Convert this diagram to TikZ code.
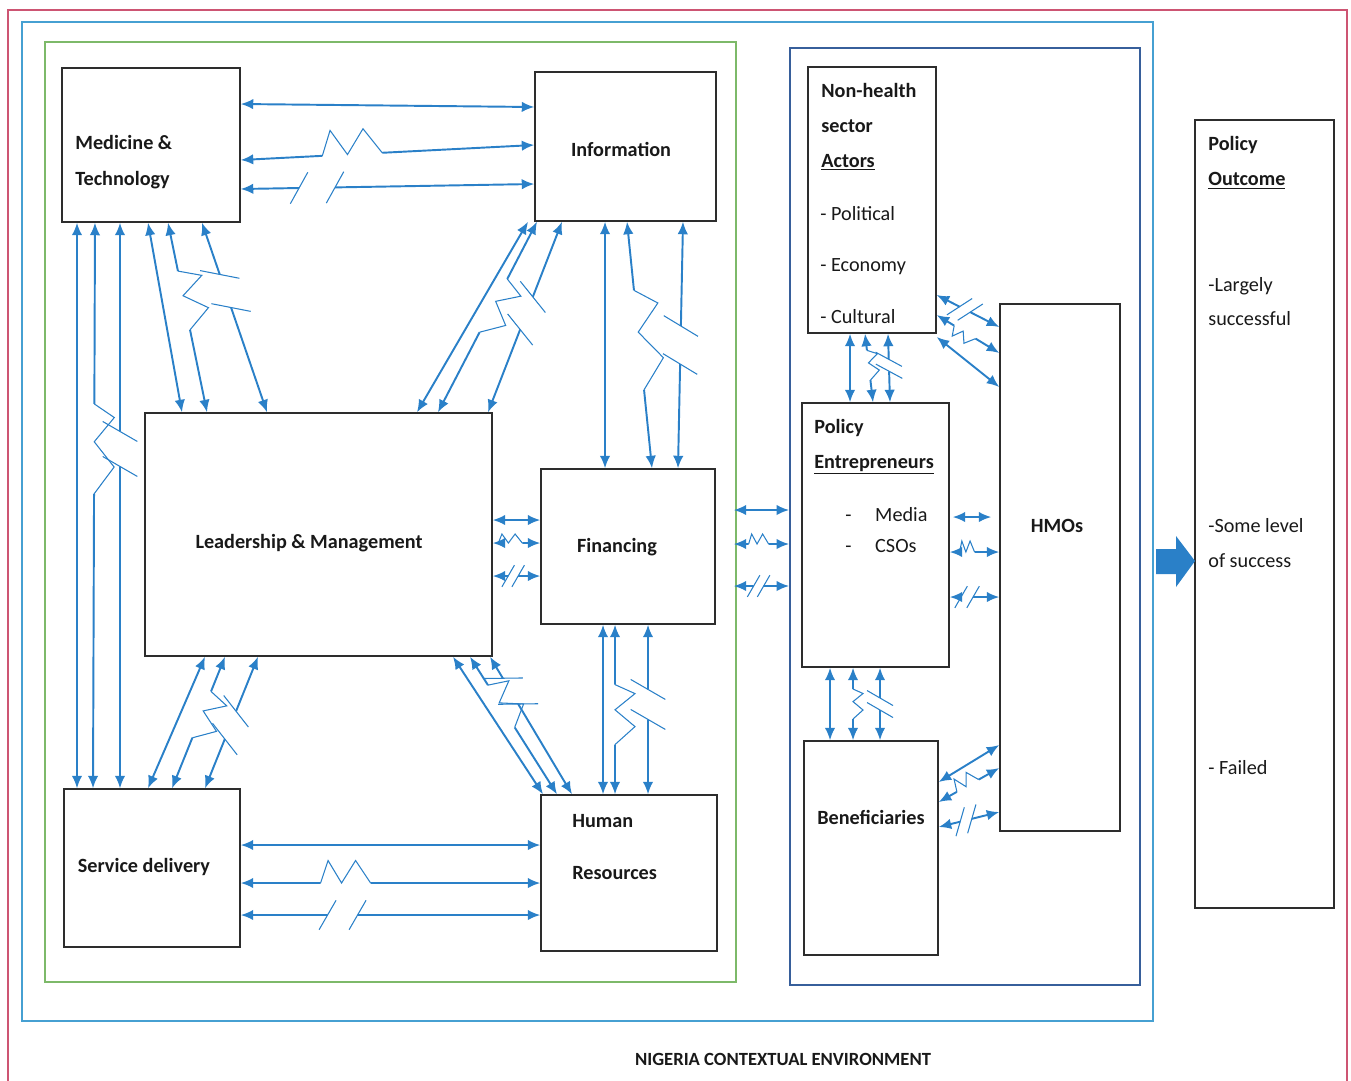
\documentclass[tikz,border=0pt]{standalone}
\usepackage{fontspec}
\setmainfont{Carlito}
\usetikzlibrary{positioning,arrows.meta,calc}

\definecolor{linkblue}{RGB}{42,128,200}
\definecolor{envblue}{RGB}{70,160,210}
\definecolor{hsgreen}{RGB}{125,185,105}
\definecolor{grpblue}{RGB}{55,95,155}
\definecolor{edgepink}{RGB}{205,85,115}
\definecolor{boxgray}{RGB}{45,45,45}

\tikzset{
  box/.style={draw=boxgray,line width=0.85pt,inner sep=0},
  frame/.style={draw,line width=1.1pt,inner sep=0},
  txt/.style={inner sep=0,text=black!90,font=\fontsize{11.5}{14}\selectfont},
  title/.style={txt,font=\fontsize{11.5}{14}\selectfont\bfseries},
  link/.style={draw=linkblue,line width=1.1pt,>={Latex[length=2.5mm,width=2.1mm]}},
  zig/.style={draw=linkblue,line width=0.6pt},
}

% straight two-way link
\newcommand{\bilink}[2]{\draw[link,<->] #1 -- #2;}
% two-way link broken by a zigzag: [where]{from}{to}{half gap}{height}
\newcommand{\ziglink}[5][0.5]{%
  \coordinate (lkA) at #2;
  \coordinate (lkB) at #3;
  \coordinate (lkM) at ($(lkA)!#1!(lkB)$);
  \coordinate (lkS) at ($(lkM)!#4!(lkA)$);
  \coordinate (lkT) at ($(lkM)!#4!(lkB)$);
  \draw[link,<-] (lkA) -- (lkS);
  \draw[link,->] (lkT) -- (lkB);
  \draw[zig] (lkS) -- ($(lkS)!0.15!(lkT)!#5!90:(lkT)$) -- ($(lkS)!0.42!(lkT)$)
    -- ($(lkS)!0.7!(lkT)!#5!90:(lkT)$) -- (lkT);
}
% two-way link cut by two slashes: [where]{from}{to}{half gap}{half slash}
\newcommand{\cutlink}[5][0.5]{%
  \coordinate (lkA) at #2;
  \coordinate (lkB) at #3;
  \coordinate (lkM) at ($(lkA)!#1!(lkB)$);
  \coordinate (lkS) at ($(lkM)!#4!(lkA)$);
  \coordinate (lkT) at ($(lkM)!#4!(lkB)$);
  \draw[link,<-] (lkA) -- (lkS);
  \draw[link,->] (lkT) -- (lkB);
  \draw[zig] ($(lkS)!#5!60:(lkB)$) -- ($(lkS)!#5!-120:(lkB)$);
  \draw[zig] ($(lkT)!#5!60:(lkB)$) -- ($(lkT)!#5!-120:(lkB)$);
}

\begin{document}
\begin{tikzpicture}[x=0.02cm,y=-0.02cm]
\useasboundingbox (0,0) rectangle (1351,1080);

% frames
\node[frame,draw=edgepink,minimum width=26.78cm,minimum height=21.8cm] (page) at (677.5,555) {};
\node[frame,draw=envblue,minimum width=22.62cm,minimum height=19.98cm] (env) at (587.5,521.5) {};
\node[frame,draw=hsgreen,minimum width=13.82cm,minimum height=18.80cm] (hs) at (390.5,512) {};
\node[frame,draw=grpblue,minimum width=7.00cm,minimum height=18.74cm] (grp) at (965,516.5) {};

% health system blocks
\node[box,minimum width=3.56cm,minimum height=3.08cm] (med) at (151,145) {};
\node[box,minimum width=3.62cm,minimum height=2.98cm] (info) at (625.5,146.5) {};
\node[box,minimum width=6.94cm,minimum height=4.86cm] (lead) at (318.5,534.5) {};
\node[box,minimum width=3.48cm,minimum height=3.10cm] (fin) at (628,546.5) {};
\node[box,minimum width=3.52cm,minimum height=3.16cm] (serv) at (152,868) {};
\node[box,minimum width=3.52cm,minimum height=3.12cm] (hr) at (629,873) {};

% actors
\node[box,minimum width=2.56cm,minimum height=5.32cm] (nonh) at (872,200) {};
\node[box,minimum width=2.94cm,minimum height=5.28cm] (pe) at (875.5,535) {};
\node[box,minimum width=2.68cm,minimum height=4.28cm] (ben) at (871,848) {};
\node[box,minimum width=2.40cm,minimum height=10.54cm] (hmo) at (1060,567.5) {};
\node[box,minimum width=2.78cm,minimum height=15.76cm] (outc) at (1264.5,514) {};

% texts
\node[title,anchor=west,align=left,font=\fontsize{11.5}{20.4}\selectfont\bfseries] (medtxt) at (75,162) {Medicine \&\\Technology};
\node[title] (infotxt) at (621,149) {Information};
\node[title] (leadtxt) at (309,543) {Leadership \& Management};
\node[title] (fintxt) at (617,547) {Financing};
\node[title] (servtxt) at (144,867) {Service delivery};
\node[title,anchor=west,align=left,font=\fontsize{11.5}{29.5}\selectfont\bfseries] (hrtxt) at (572,847) {Human\\Resources};
\node[title,anchor=west,align=left,font=\fontsize{11.5}{19.8}\selectfont\bfseries] (nonhtxt) at (821,127) {Non-health\\sector\\\underline{Actors}};
\node[txt,anchor=west,align=left,font=\fontsize{11.5}{29.2}\selectfont] (nonhlist) at (820,265) {- Political\\- Economy\\- Cultural};
\node[title,anchor=west,align=left,font=\fontsize{11.5}{19.8}\selectfont\bfseries] (petxt) at (814,447) {Policy\\\underline{Entrepreneurs}};
\node[txt,anchor=west,align=left,font=\fontsize{11.5}{18.1}\selectfont] (pelist) at (845,530) {\makebox[17pt][l]{-}Media\\\makebox[17pt][l]{-}CSOs};
\node[title] (bentxt) at (871,817) {Beneficiaries};
\node[title] (hmotxt) at (1057,526) {HMOs};
\node[title,anchor=west,align=left,font=\fontsize{11.5}{19.8}\selectfont\bfseries] (outctxt) at (1208,163) {Policy\\\underline{Outcome}};
\node[txt,anchor=west,align=left,font=\fontsize{11.5}{19.3}\selectfont] (out1) at (1208,302) {-Largely\\successful};
\node[txt,anchor=west,align=left,font=\fontsize{11.5}{19.8}\selectfont] (out2) at (1208,543) {-Some level\\of success};
\node[txt,anchor=west] (out3) at (1208,768) {- Failed};
\node[title,font=\fontsize{10.6}{12}\selectfont\bfseries] (envtxt) at (783,1059) {NIGERIA CONTEXTUAL ENVIRONMENT};

% arrow to the outcome
\fill[linkblue] (1156,549) -- (1176,549) -- (1176,536) -- (1195,561) -- (1176,587)
  -- (1176,574) -- (1156,574) -- cycle;

% medicine - information
\bilink{(med.east |- 0,104)}{(info.west |- 0,107)}
\ziglink[0.38]{(med.east |- 0,160)}{(info.west |- 0,145)}{0.6cm}{0.5cm}
\cutlink[0.26]{(med.east |- 0,189)}{(info.west |- 0,184)}{0.36cm}{0.36cm}
% medicine - leadership
\bilink{(148,0 |- med.south)}{(182,0 |- lead.north)}
\ziglink[0.41]{(168,0 |- med.south)}{(207,0 |- lead.north)}{0.6cm}{0.45cm}
\cutlink[0.36]{(202,0 |- med.south)}{(267,0 |- lead.north)}{0.35cm}{0.4cm}
% information - leadership
\bilink{(528,0 |- info.south)}{(417,0 |- lead.north)}
\ziglink[0.44]{(537,0 |- info.south)}{(438,0 |- lead.north)}{0.6cm}{0.4cm}
\cutlink[0.48]{(562,0 |- info.south)}{(488,0 |- lead.north)}{0.35cm}{0.4cm}
% information - financing
\bilink{(605,0 |- info.south)}{(605,0 |- fin.north)}
\ziglink[0.48]{(627,0 |- info.south)}{(652,0 |- fin.north)}{1.0cm}{0.45cm}
\cutlink[0.5]{(683,0 |- info.south)}{(678,0 |- fin.north)}{0.38cm}{0.4cm}
% leadership - financing
\bilink{(lead.east |- 0,520)}{(fin.west |- 0,520)}
\ziglink[0.37]{(lead.east |- 0,543)}{(fin.west |- 0,543)}{0.24cm}{0.18cm}
\cutlink[0.43]{(lead.east |- 0,576)}{(fin.west |- 0,576)}{0.1cm}{0.25cm}
% financing - actors
\bilink{($(fin.east |- 0,510)+(18,0)$)}{(grp.west |- 0,510)}
\ziglink[0.45]{($(fin.east |- 0,544)+(18,0)$)}{(grp.west |- 0,544)}{0.2cm}{0.2cm}
\cutlink[0.45]{($(fin.east |- 0,586)+(18,0)$)}{(grp.west |- 0,586)}{0.1cm}{0.25cm}
% medicine - service delivery
\bilink{(77,0 |- med.south)}{(77,0 |- serv.north)}
\ziglink[0.4]{(95,0 |- med.south)}{(93,0 |- serv.north)}{0.9cm}{0.4cm}
\cutlink[0.4]{(120,0 |- med.south)}{(120,0 |- serv.north)}{0.35cm}{0.4cm}
% leadership - service delivery
\bilink{(205,0 |- lead.south)}{(148,0 |- serv.north)}
\ziglink[0.44]{(225,0 |- lead.south)}{(172,0 |- serv.north)}{0.5cm}{0.4cm}
\cutlink[0.52]{(258,0 |- lead.south)}{(205,0 |- serv.north)}{0.3cm}{0.4cm}
% leadership - human resources
\bilink{(453,0 |- lead.south)}{(543,0 |- hr.north)}
\ziglink[0.36]{(470,0 |- lead.south)}{(557,0 |- hr.north)}{0.5cm}{0.4cm}
\cutlink[0.25]{(490,0 |- lead.south)}{(572,0 |- hr.north)}{0.3cm}{0.4cm}
% financing - human resources
\bilink{(603,0 |- fin.south)}{(603,0 |- hr.north)}
\ziglink[0.53]{(615,0 |- fin.south)}{(615,0 |- hr.north)}{0.6cm}{0.4cm}
\cutlink[0.47]{(648,0 |- fin.south)}{(648,0 |- hr.north)}{0.3cm}{0.4cm}
% service delivery - human resources
\bilink{(serv.east |- 0,845)}{(hr.west |- 0,845)}
\ziglink[0.35]{(serv.east |- 0,883)}{(hr.west |- 0,883)}{0.5cm}{0.45cm}
\cutlink[0.34]{(serv.east |- 0,915)}{(hr.west |- 0,915)}{0.3cm}{0.34cm}

% non-health actors - HMOs
\cutlink[0.45]{(nonh.east |- 0,295)}{(hmo.west |- 0,327)}{0.12cm}{0.3cm}
\ziglink[0.45]{(nonh.east |- 0,315)}{(hmo.west |- 0,353)}{0.25cm}{-0.2cm}
\bilink{(nonh.east |- 0,337)}{(hmo.west |- 0,387)}
% non-health actors - policy entrepreneurs
\bilink{(850,0 |- nonh.south)}{(850,0 |- pe.north)}
\ziglink[0.46]{(865,0 |- nonh.south)}{(873,0 |- pe.north)}{0.3cm}{0.2cm}
\cutlink[0.46]{(888,0 |- nonh.south)}{(890,0 |- pe.north)}{0.12cm}{0.3cm}
% policy entrepreneurs - HMOs
\bilink{($(pe.east |- 0,517)+(3,0)$)}{($(hmo.west |- 0,517)+(-8,0)$)}
\ziglink[0.35]{(pe.east |- 0,552)}{(hmo.west |- 0,552)}{0.15cm}{0.22cm}
\cutlink[0.35]{(pe.east |- 0,597)}{(hmo.west |- 0,597)}{0.12cm}{0.25cm}
% policy entrepreneurs - beneficiaries
\bilink{(830,0 |- pe.south)}{(830,0 |- ben.north)}
\ziglink[0.5]{(853,0 |- pe.south)}{(853,0 |- ben.north)}{0.3cm}{0.2cm}
\cutlink[0.5]{(880,0 |- pe.south)}{(880,0 |- ben.north)}{0.12cm}{0.3cm}
% beneficiaries - HMOs
\bilink{(ben.east |- 0,782)}{(hmo.west |- 0,745)}
\ziglink[0.48]{(ben.east |- 0,802)}{(hmo.west |- 0,768)}{0.25cm}{0.25cm}
\cutlink[0.45]{(ben.east |- 0,827)}{(hmo.west |- 0,812)}{0.12cm}{0.3cm}
\end{tikzpicture}
\end{document}
